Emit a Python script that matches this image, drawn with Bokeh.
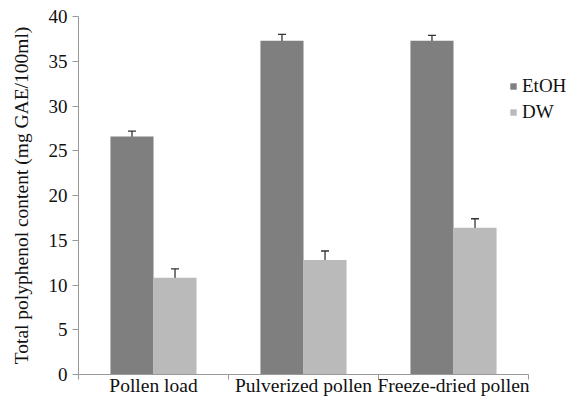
import numpy as np
from bokeh.plotting import figure
from bokeh.models import (ColumnDataSource, Range1d, FixedTicker, Whisker, TeeHead,
                          Legend, LegendItem)
from bokeh.embed import file_html
from bokeh.resources import INLINE

categories = ["Pollen load", "Pulverized pollen", "Freeze-dried pollen"]
series = ["EtOH", "DW"]
etoh = [26.6, 37.3, 37.3]
etoh_err = [0.6, 0.7, 0.6]
dw = [10.8, 12.8, 16.4]
dw_err = [1.0, 1.0, 1.0]
colors = ["#7f7f7f", "#bababa"]

FONT = "'Liberation Serif', 'Times New Roman', serif"
bar_w = 0.287

idx = np.arange(len(categories))
centers = idx + 0.5

p = figure(width=567, height=399, output_backend="svg", toolbar_location=None,
           x_range=Range1d(0, 3.26), y_range=Range1d(0, 40),
           min_border_left=78, min_border_right=0, min_border_top=16, min_border_bottom=25)
p.outline_line_color = None
p.xgrid.visible = False
p.ygrid.visible = False
p.background_fill_color = "white"
p.border_fill_color = "white"

renderers = []
for k, (vals, errs, col) in enumerate(zip([etoh, dw], [etoh_err, dw_err], colors)):
    xs = centers + (k - 0.5) * bar_w
    src = ColumnDataSource(dict(x=xs, top=vals,
                                upper=np.array(vals) + np.array(errs),
                                lower=np.array(vals) - np.array(errs)))
    r = p.vbar(x="x", top="top", bottom=0, width=bar_w, source=src,
               fill_color=col, line_color=None)
    renderers.append(r)
    w = Whisker(base="x", upper="upper", lower="lower", source=src,
                line_color="#333333", line_width=1.3,
                upper_head=TeeHead(size=8, line_color="#333333", line_width=1.3),
                lower_head=TeeHead(size=8, line_color="#333333", line_width=1.3))
    p.add_layout(w)

# x axis: category names at centres, visible ticks at category boundaries
xa = p.xaxis[0]
xa.bounds = (0, len(categories))
xa.ticker = FixedTicker(ticks=list(centers), minor_ticks=list(np.arange(len(categories) + 1)))
xa.major_label_overrides = {float(c): cat for c, cat in zip(centers, categories)}
xa.major_tick_out = 5
xa.major_tick_in = 0
xa.major_tick_line_color = None
xa.minor_tick_out = 5
xa.minor_tick_in = 0
xa.minor_tick_line_color = "#999999"
xa.axis_line_color = "#999999"
xa.major_label_text_font = FONT
xa.major_label_text_font_size = "19.5px"
xa.major_label_text_color = "#111111"
xa.major_label_standoff = -5

# y axis
ya = p.yaxis[0]
ya.ticker = FixedTicker(ticks=list(range(0, 41, 5)))
ya.minor_tick_line_color = None
ya.major_tick_in = 0
ya.major_tick_out = 6
ya.major_tick_line_color = "#999999"
ya.axis_line_color = "#999999"
ya.major_label_text_font = FONT
ya.major_label_text_font_size = "19px"
ya.major_label_text_color = "#111111"
ya.major_label_standoff = 5
ya.axis_label = "Total polyphenol content (mg GAE/100ml)"
ya.axis_label_text_font = FONT
ya.axis_label_text_font_size = "19.5px"
ya.axis_label_text_font_style = "normal"
ya.axis_label_text_color = "#111111"
ya.axis_label_standoff = 14

legend = Legend(items=[LegendItem(label=s, renderers=[r]) for s, r in zip(series, renderers)],
                location=(431, 251), orientation="vertical",
                glyph_width=8, glyph_height=8, label_standoff=5, spacing=4,
                padding=0, margin=0, border_line_color=None, background_fill_alpha=0,
                label_text_font=FONT, label_text_font_size="19px", label_text_color="#111111")
p.add_layout(legend)

open("out.html", "w").write(file_html(p, INLINE))
